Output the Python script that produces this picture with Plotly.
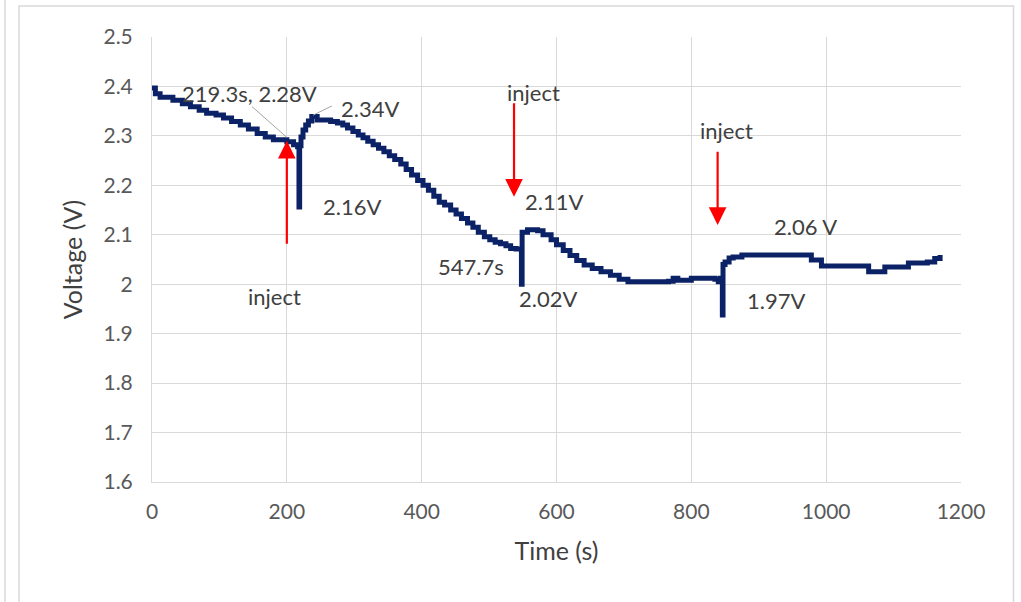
import plotly.graph_objects as go

# ---- data ----
time_s = [0, 5, 12, 20, 31, 45, 57, 70, 81, 95, 106, 118, 131, 143, 156, 168, 180, 190, 200, 210,
          216, 218, 219, 221, 224, 228, 232, 237, 245, 255, 265, 275, 283, 290, 298, 306, 313, 320,
          328, 336, 344, 352, 360, 369, 377, 385, 394, 402, 410, 418, 426, 434, 443, 451, 459, 468,
          476, 484, 493, 501, 509, 517, 525, 532, 540, 548, 549, 557, 572, 580, 592, 600, 610, 620,
          630, 641, 653, 666, 680, 693, 706, 720, 740, 766, 773, 780, 800, 820, 835, 840, 843, 846,
          847, 850, 856, 862, 875, 978, 993, 1063, 1087, 1122, 1150, 1161, 1169]
voltage = [2.397, 2.385, 2.378, 2.378, 2.372, 2.365, 2.359, 2.352, 2.346, 2.342, 2.336, 2.329, 2.322,
           2.314, 2.305, 2.298, 2.292, 2.292, 2.288, 2.282, 2.278, 2.156, 2.280, 2.298, 2.312, 2.322,
           2.330, 2.339, 2.332, 2.332, 2.329, 2.326, 2.322, 2.316, 2.309, 2.302, 2.296, 2.289, 2.282,
           2.275, 2.268, 2.260, 2.252, 2.243, 2.232, 2.221, 2.210, 2.200, 2.190, 2.178, 2.166, 2.160,
           2.150, 2.142, 2.133, 2.124, 2.115, 2.105, 2.096, 2.090, 2.085, 2.082, 2.078, 2.072, 2.071,
           2.000, 2.105, 2.110, 2.108, 2.100, 2.090, 2.080, 2.068, 2.058, 2.048, 2.039, 2.032, 2.025,
           2.018, 2.010, 2.005, 2.005, 2.005, 2.006, 2.012, 2.008, 2.012, 2.012, 2.010, 2.005, 2.012,
           1.938, 2.040, 2.045, 2.053, 2.055, 2.059, 2.049, 2.037, 2.025, 2.035, 2.043, 2.045, 2.052,
           2.059]

x_ticks = [0, 200, 400, 600, 800, 1000, 1200]
x_tick_labels = ["0", "200", "400", "600", "800", "1000", "1200"]
y_ticks = [1.6, 1.7, 1.8, 1.9, 2.0, 2.1, 2.2, 2.3, 2.4, 2.5]
y_tick_labels = ["1.6", "1.7", "1.8", "1.9", "2", "2.1", "2.2", "2.3", "2.4", "2.5"]

# text labels: (text, t, V)
labels = [
    ("219.3s, 2.28V", 144, 2.385),
    ("2.34V", 323, 2.356),
    ("2.16V", 296, 2.158),
    ("inject", 181, 1.976),
    ("inject", 566, 2.387),
    ("2.11V", 596, 2.168),
    ("547.7s", 473, 2.035),
    ("2.02V", 588, 1.972),
    ("inject", 852, 2.310),
    ("2.06 V", 970, 2.116),
    ("1.97V", 926, 1.968),
]
# red arrows: (tail t, tail V, tip t, tip V)
inject_arrows = [
    (200, 2.079, 200, 2.290),
    (537, 2.369, 537, 2.177),
    (839, 2.271, 839, 2.120),
]
# grey leader lines: (tail t, tail V, tip t, tip V)
leaders = [
    (146, 2.362, 200, 2.297),
    (269, 2.362, 239, 2.342),
]

FONT = "Lato"
NAVY = "#0c2266"
TEXT = "#404040"

fig = go.Figure()
fig.add_trace(go.Scatter(x=time_s, y=voltage, mode="lines", line=dict(color=NAVY, width=5, shape="hv"),
                         showlegend=False, hoverinfo="x+y"))

for txt, tx, ty in labels:
    fig.add_annotation(x=tx, y=ty, text=txt, showarrow=False, font=dict(family=FONT, size=22, color=TEXT))

for x0, y0, x1, y1 in inject_arrows:
    fig.add_annotation(x=x1, y=y1, ax=x0, ay=y0, xref="x", yref="y", axref="x", ayref="y", text="",
                       showarrow=True, arrowhead=2, arrowsize=1.6, arrowwidth=2.2, arrowcolor="#ff0000")

for x0, y0, x1, y1 in leaders:
    fig.add_annotation(x=x1, y=y1, ax=x0, ay=y0, xref="x", yref="y", axref="x", ayref="y", text="",
                       showarrow=True, arrowhead=0, arrowwidth=1, arrowcolor="#a6a6a6")

# outer frame
fig.add_shape(type="rect", xref="paper", yref="paper", x0=-0.1644, x1=1.0649, y0=-0.3, y1=1.0696,
              line=dict(color="#d9d9d9", width=1.5), fillcolor="rgba(0,0,0,0)", layer="below")
fig.add_shape(type="line", xref="paper", yref="paper", x0=-0.1817, x1=-0.1817, y0=-0.3, y1=1.2,
              line=dict(color="#d9d9d9", width=1.5))

fig.update_layout(
    width=1021, height=602, autosize=False,
    margin=dict(l=152, r=60, t=37, b=120),
    paper_bgcolor="white", plot_bgcolor="white",
    font=dict(family=FONT, size=21, color="#595959"),
    xaxis=dict(range=[0, 1200], tickvals=x_ticks, ticktext=x_tick_labels, showgrid=True,
               gridcolor="#d9d9d9", gridwidth=1, showline=True, linecolor="#d9d9d9", linewidth=1,
               mirror=False, zeroline=False, ticks="", ticklabelstandoff=11,
               title=dict(text="Time (s)", font=dict(family=FONT, size=25, color="#404040"), standoff=20)),
    yaxis=dict(range=[1.6, 2.5], tickvals=y_ticks, ticktext=y_tick_labels, showgrid=True,
               gridcolor="#d9d9d9", gridwidth=1, showline=True, linecolor="#d9d9d9", linewidth=1,
               zeroline=False, ticks="", ticklabelstandoff=14,
               title=dict(text="Voltage (V)", font=dict(family=FONT, size=25, color="#404040"), standoff=13)),
)

fig.write_html("out.html", post_script="document.body.style.margin='0';",
               config={"displayModeBar": False})
